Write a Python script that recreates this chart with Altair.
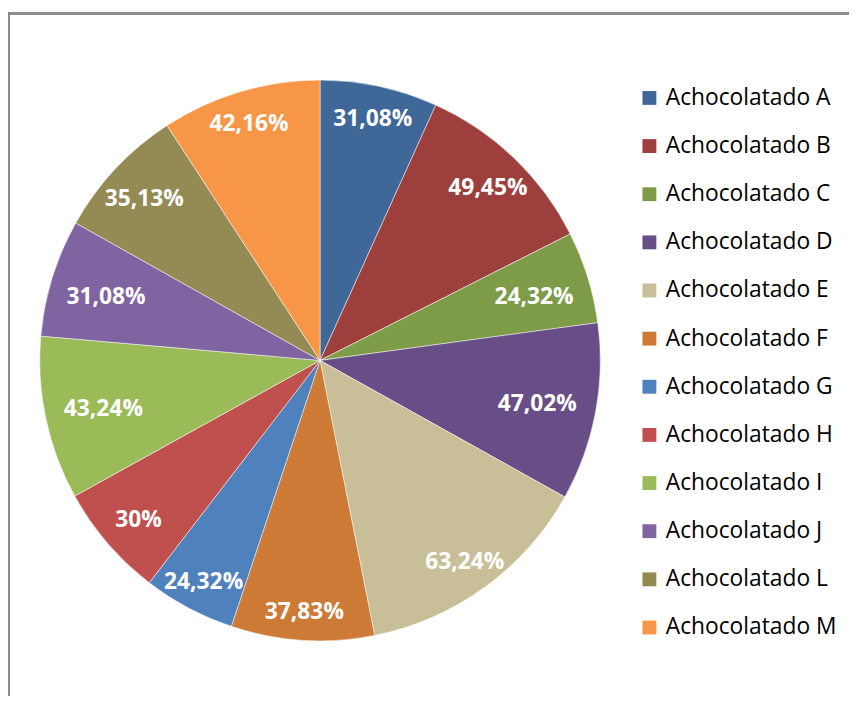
import altair as alt
import pandas as pd

names = ["Achocolatado A", "Achocolatado B", "Achocolatado C", "Achocolatado D",
         "Achocolatado E", "Achocolatado F", "Achocolatado G", "Achocolatado H",
         "Achocolatado I", "Achocolatado J", "Achocolatado L", "Achocolatado M"]
values = [31.08, 49.45, 24.32, 47.02, 63.24, 37.83, 24.32, 30.0, 43.24, 31.08, 35.13, 42.16]
labels = ["31,08%", "49,45%", "24,32%", "47,02%", "63,24%", "37,83%",
          "24,32%", "30%", "43,24%", "31,08%", "35,13%", "42,16%"]
colors = ["#3F6797", "#9D3F3C", "#7E9B48", "#674E87", "#C8BF98", "#CC7A36",
          "#4F81BD", "#C0504D", "#9BBB59", "#8064A2", "#948A54", "#F79646"]

df = pd.DataFrame({"name": names, "value": values, "label": labels,
                   "idx": list(range(len(names)))})

CX, CY, R = 315, 352.5, 283

pie = alt.Chart(df).mark_arc(radius=R, stroke="white", strokeWidth=0.5).encode(
    theta=alt.Theta("value:Q", stack=True),
    order=alt.Order("idx:Q"),
    x=alt.value(CX), y=alt.value(CY),
    color=alt.Color("name:N", sort=names,
                    scale=alt.Scale(domain=names, range=colors),
                    legend=alt.Legend(orient="none", legendX=636, legendY=76,
                                      title=None, symbolType="square",
                                      symbolSize=196, symbolStrokeWidth=0,
                                      labelFont="Open Sans", labelFontSize=23,
                                      labelColor="#000000", labelOffset=5,
                                      rowPadding=24.6, padding=0,
                                      labelLimit=300)),
)

text = alt.Chart(df).transform_joinaggregate(
    total="sum(value)"
).transform_window(
    cum="sum(value)", sort=[alt.SortField("idx")], frame=[None, 0]
).transform_calculate(
    mid="(datum.cum - datum.value / 2) / datum.total * 2 * PI",
).transform_calculate(
    r="252 - 31 * pow(sin(datum.mid), 4)",
).transform_calculate(
    px=f"{CX} + datum.r * sin(datum.mid)",
    py=f"{CY} - datum.r * cos(datum.mid)",
).mark_text(font="Open Sans", fontSize=23, fontWeight="bold", dy=3,
            color="white", align="center", baseline="middle").encode(
    x=alt.X("px:Q", scale=None, axis=None),
    y=alt.Y("py:Q", scale=None, axis=None),
    text="label:N",
)

frame = alt.Chart(df).mark_rect(fill=None, stroke="#8c8c8c", strokeWidth=2).encode(
    x=alt.value(1), y=alt.value(2), x2=alt.value(1200), y2=alt.value(1200)
)

chart = alt.layer(frame, pie, text).properties(
    width=849, height=688, padding=0,
    autosize=alt.AutoSizeParams(type="none"),
).configure_view(stroke=None)

chart.save("out.html", embed_options={"renderer": "svg", "actions": False})
